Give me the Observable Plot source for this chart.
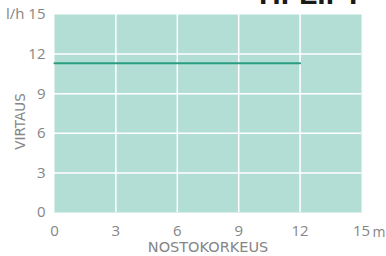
<!DOCTYPE html>
<html>
<head>
<meta charset="utf-8">
<script src="https://cdn.jsdelivr.net/npm/d3@7"></script>
<script src="https://cdn.jsdelivr.net/npm/@observablehq/plot@0.6"></script>
<style>
body { margin: 0; background: #fff; }
#wrap { position: relative; width: 386px; height: 256px; overflow: hidden; }
#title { position: absolute; left: 259px; top: -23px; font: bold 30px "Liberation Sans", Arial, sans-serif; color: #1a1a1a; }
</style>
</head>
<body>
<div id="wrap"><div id="title">HI-LIFT</div></div>
<script>
const heights = [0, 12];
const flow = [11.3, 11.3];
const xTicks = [0, 3, 6, 9, 12, 15];
const yTicks = [0, 3, 6, 9, 12, 15];
const gridTicks = [3, 6, 9, 12];

const data = heights.map((h, i) => ({h, f: flow[i]}));
const gray = "#858585";

const chart = Plot.plot({
  width: 386,
  height: 256,
  marginLeft: 54,
  marginRight: 25,
  marginTop: 14,
  marginBottom: 44,
  style: {fontFamily: "'Open Sans', sans-serif", fontSize: "15px", color: gray, background: "transparent"},
  x: {domain: [0, 15], ticks: xTicks},
  y: {domain: [0, 15], ticks: yTicks},
  marks: [
    Plot.frame({fill: "#b2ded6", stroke: null}),
    Plot.gridX(gridTicks, {stroke: "#ffffff", strokeOpacity: 1, strokeWidth: 1.5}),
    Plot.gridY(gridTicks, {stroke: "#ffffff", strokeOpacity: 1, strokeWidth: 1.5}),
    Plot.axisX(xTicks, {tickSize: 0, tickPadding: 13, label: null, fill: gray, fontSize: 15}),
    Plot.axisY(yTicks, {tickSize: 0, tickPadding: 9, label: null, fill: gray, fontSize: 15,
      tickFormat: d => d === 15 ? "l/h 15" : String(d)}),
    Plot.text(["m"], {x: () => 15, y: () => 0, dx: 11, dy: 20, textAnchor: "start", fill: gray, fontSize: 14, fontFamily: "'Open Sans', sans-serif"}),
    Plot.text(["NOSTOKORKEUS"], {x: () => 7.5, y: () => 0, dy: 35, fill: gray, fontSize: 14.5, fontFamily: "'DejaVu Sans', sans-serif"}),
    Plot.text(["VIRTAUS"], {x: () => 0, y: () => 7.5, dx: -34, dy: 8, rotate: -90, fill: gray, fontSize: 13.5, fontFamily: "'DejaVu Sans', sans-serif"}),
    Plot.line(data, {x: "h", y: "f", stroke: "#2a9d80", strokeWidth: 2})
  ]
});
document.getElementById("wrap").appendChild(chart);
chart.style.position = "absolute";
chart.style.left = "0";
chart.style.top = "0";
</script>
</body>
</html>
